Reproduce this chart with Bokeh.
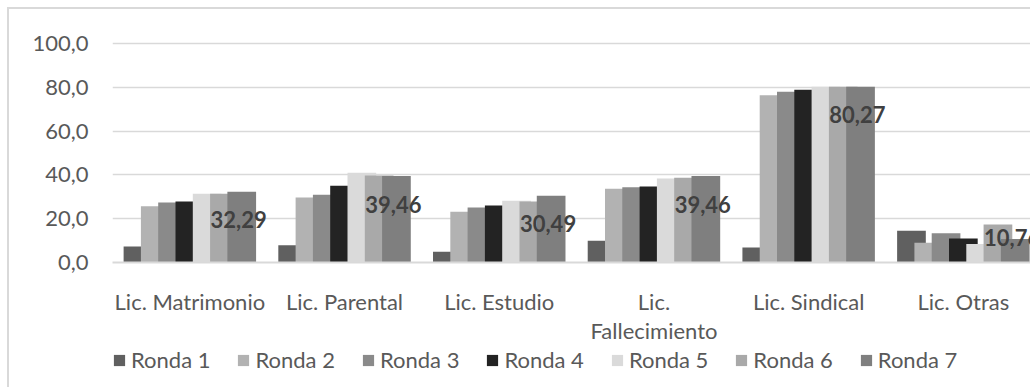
from bokeh.plotting import figure
from bokeh.layouts import column
from bokeh.models import Range1d, FixedTicker, Legend, LegendItem, ColumnDataSource
from bokeh.core.properties import value
from bokeh.embed import file_html
from bokeh.resources import INLINE

# ---- data ----
categories = ["Lic. Matrimonio", "Lic. Parental", "Lic. Estudio",
              "Lic.\nFallecimiento", "Lic. Sindical", "Lic. Otras"]
series_names = ["Ronda 1", "Ronda 2", "Ronda 3", "Ronda 4", "Ronda 5", "Ronda 6", "Ronda 7"]
ronda1 = [7.3, 7.9, 4.9, 9.9, 6.8, 14.5]
ronda2 = [25.7, 29.7, 23.2, 33.7, 76.4, 9.0]
ronda3 = [27.4, 30.9, 25.1, 34.3, 77.9, 13.4]
ronda4 = [27.9, 35.0, 26.0, 34.7, 78.9, 11.0]
ronda5 = [31.4, 41.0, 28.2, 38.4, 80.2, 8.5]
ronda6 = [31.4, 39.7, 27.9, 38.7, 80.2, 17.4]
ronda7 = [32.29, 39.46, 30.49, 39.46, 80.27, 10.76]
y_ticks = [0, 20, 40, 60, 80, 100]
y_tick_labels = ["0,0", "20,0", "40,0", "60,0", "80,0", "100,0"]

series = [ronda1, ronda2, ronda3, ronda4, ronda5, ronda6, ronda7]
colors = ["#606060", "#b2b2b2", "#8a8a8a", "#232323", "#dadada", "#a9a9a9", "#7f7f7f"]

FONT = "Lato"
TXT = "#595959"
GRID = "#d9d9d9"

n = len(categories)
centers = [i + 0.5 for i in range(n)]
step = 0.1118   # offset between overlapping series bars
bw = 0.1855     # bar width

# ---- main chart ----
p = figure(width=1023, height=340, output_backend="svg", toolbar_location=None,
           x_range=Range1d(0, 5.947), y_range=Range1d(0, 105),
           min_border_left=103, min_border_right=0, min_border_top=23,
           min_border_bottom=87)
p.margin = (7, 0, 0, 7)
p.styles = {"border-left": "2px solid #d9d9d9", "border-top": "2px solid #d9d9d9"}
p.outline_line_color = None
p.background_fill_color = "white"
p.border_fill_color = "white"

for j, (name, vals, col) in enumerate(zip(series_names, series, colors)):
    xs = [c + (j - 3) * step for c in centers]
    src = ColumnDataSource(dict(x=xs, top=vals))
    p.vbar(x="x", top="top", width=bw, bottom=0, source=src,
           fill_color=col, line_color=None)

# data labels on Ronda 7
lab_x = [c + 3 * step - 0.02 for c in centers]
lab_y = [v - 12.8 if v > 20 else v + 0.5 for v in ronda7]
lab_t = [f"{v:.2f}".replace(".", ",") for v in ronda7]
p.text(x=lab_x, y=lab_y, text=lab_t, text_font=value(FONT), text_font_style="bold",
       text_font_size="22px", text_color="#404040", text_align="center",
       text_baseline="middle")

p.xgrid.visible = False
p.ygrid.ticker = FixedTicker(ticks=y_ticks)
p.ygrid.grid_line_color = GRID
p.ygrid.grid_line_width = 1.5

p.yaxis.ticker = FixedTicker(ticks=y_ticks)
p.yaxis.major_label_overrides = {t: l for t, l in zip(y_ticks, y_tick_labels)}
p.yaxis.axis_line_color = None
p.yaxis.major_tick_line_color = None
p.yaxis.minor_tick_line_color = None
p.yaxis.major_tick_out = 0
p.yaxis.major_label_standoff = 24
p.yaxis.major_label_text_font = FONT
p.yaxis.major_label_text_font_size = "22px"
p.yaxis.major_label_text_color = TXT

p.xaxis.ticker = FixedTicker(ticks=centers)
p.xaxis.major_label_overrides = {c: l for c, l in zip(centers, categories)}
p.xaxis.axis_line_color = GRID
p.xaxis.axis_line_width = 2
p.xaxis.major_tick_line_color = None
p.xaxis.minor_tick_line_color = None
p.xaxis.major_tick_out = 0
p.xaxis.major_label_standoff = 25
p.xaxis.major_label_text_font = FONT
p.xaxis.major_label_text_font_size = "22px"
p.xaxis.major_label_text_line_height = 1.1
p.xaxis.major_label_text_color = TXT

# ---- legend strip (swatches stand for the series above) ----
lg = figure(width=1023, height=40, output_backend="svg", toolbar_location=None,
            x_range=Range1d(0, 1), y_range=Range1d(0, 1), min_border=0)
lg.margin = (0, 0, 0, 7)
lg.styles = {"border-left": "2px solid #d9d9d9"}
lg.axis.visible = False
lg.grid.visible = False
lg.outline_line_color = None
lg.border_fill_color = "white"
items = []
for name, col in zip(series_names, colors):
    # zero-height bar outside the visible range: only its legend swatch shows
    r = lg.vbar(x=[5], top=[0], width=0.1, fill_color=col, line_color=None)
    items.append(LegendItem(label=name, renderers=[r]))
legend = Legend(items=items, orientation="horizontal", location=(0, 14),
                glyph_width=14, glyph_height=14, label_standoff=5, spacing=26,
                padding=0, margin=0, border_line_color=None, background_fill_alpha=0,
                label_text_font=FONT, label_text_font_size="22px", label_text_color=TXT)
lg.add_layout(legend)

layout = column(p, lg, spacing=0)
open("out.html", "w").write(file_html(layout, INLINE))
